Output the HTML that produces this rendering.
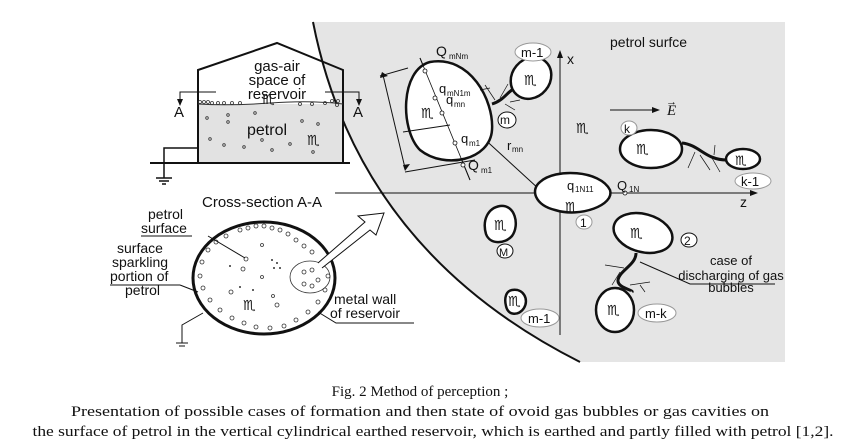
<!DOCTYPE html>
<html><head><meta charset="utf-8"><style>
html,body{margin:0;padding:0;background:#fff}
svg{display:block}
text{font-family:"Liberation Sans",Arial,sans-serif;fill:#111}
.s{font-family:"Liberation Serif",serif}
.g{font-family:"DejaVu Sans",sans-serif}
</style></head><body>
<svg width="841" height="448" viewBox="0 0 841 448" xmlns="http://www.w3.org/2000/svg">
<path d="M313,22 Q358,250 580,362 L785,362 L785,22 Z" fill="#e5e5e5"/>
<path d="M313,22 Q358,250 580,362" fill="none" stroke="#111" stroke-width="2"/>

<rect x="198" y="104" width="145" height="59" fill="#e2e2e2"/>
<path d="M198,163 L198,70 L277,43 L343,70 L343,163" fill="none" stroke="#111" stroke-width="2"/>
<line x1="150" y1="163" x2="350" y2="163" stroke="#111" stroke-width="2"/>
<path d="M198,104 Q230,106 270,103 T343,104" fill="none" stroke="#333" stroke-width="1"/>
<g fill="none" stroke="#333" stroke-width="0.8">
<circle cx="200" cy="102" r="1.5"/><circle cx="204" cy="102" r="1.5"/><circle cx="208" cy="102" r="1.5"/><circle cx="212" cy="103" r="1.5"/><circle cx="218" cy="103" r="1.5"/><circle cx="224" cy="103" r="1.5"/><circle cx="232" cy="103" r="1.5"/><circle cx="240" cy="103" r="1.5"/><circle cx="300" cy="104" r="1.5"/><circle cx="312" cy="104" r="1.5"/><circle cx="325" cy="103" r="1.5"/><circle cx="332" cy="101" r="1.5"/><circle cx="338" cy="101" r="1.5"/><circle cx="337" cy="105" r="1.5"/>
<circle cx="207" cy="118" r="1.3"/><circle cx="228" cy="115" r="1.3"/><circle cx="228" cy="122" r="1.3"/><circle cx="255" cy="113" r="1.3"/><circle cx="302" cy="121" r="1.3"/><circle cx="318" cy="124" r="1.3"/><circle cx="210" cy="139" r="1.3"/><circle cx="224" cy="145" r="1.3"/><circle cx="244" cy="147" r="1.3"/><circle cx="262" cy="140" r="1.3"/><circle cx="272" cy="150" r="1.3"/><circle cx="290" cy="144" r="1.3"/><circle cx="313" cy="152" r="1.3"/>
</g>
<text x="277" y="71" font-size="15" text-anchor="middle">gas-air</text>
<text x="277" y="85" font-size="15" text-anchor="middle">space of</text>
<text x="277" y="99" font-size="15" text-anchor="middle">reservoir</text>
<text x="247" y="135" font-size="16">petrol</text>
<text class="g" x="262" y="104" font-size="14">♏</text>
<text class="g" x="307" y="145" font-size="14">♏</text>
<polyline points="216,92 180,92 180,102" fill="none" stroke="#111"/>
<polygon points="177,99 183,99 180,106" fill="#111"/>
<polyline points="325,92 359,92 359,102" fill="none" stroke="#111"/>
<polygon points="356,99 362,99 359,106" fill="#111"/>
<text x="174" y="117" font-size="15">A</text>
<text x="353" y="117" font-size="15">A</text>
<polyline points="198,148 164,148 164,178" fill="none" stroke="#111" stroke-width="1.5"/>
<line x1="156" y1="178" x2="172" y2="178" stroke="#111" stroke-width="1.5"/>
<line x1="159" y1="181" x2="169" y2="181" stroke="#111" stroke-width="1.5"/>
<line x1="162" y1="184" x2="166" y2="184" stroke="#111" stroke-width="1.5"/>

<text x="202" y="207" font-size="15">Cross-section A-A</text>
<ellipse cx="264" cy="278" rx="71" ry="56" fill="#fff" stroke="#111" stroke-width="3"/>
<g fill="none" stroke="#333" stroke-width="0.8">
<circle cx="240" cy="230" r="2"/><circle cx="248" cy="228" r="2"/><circle cx="256" cy="226" r="2"/><circle cx="264" cy="226" r="2"/><circle cx="272" cy="228" r="2"/><circle cx="280" cy="230" r="2"/><circle cx="288" cy="234" r="2"/><circle cx="296" cy="240" r="2"/><circle cx="304" cy="246" r="2"/><circle cx="312" cy="252" r="2"/><circle cx="322" cy="264" r="2"/><circle cx="328" cy="276" r="2"/><circle cx="325" cy="290" r="2"/><circle cx="318" cy="302" r="2"/><circle cx="308" cy="312" r="2"/><circle cx="296" cy="320" r="2"/><circle cx="284" cy="326" r="2"/><circle cx="270" cy="328" r="2"/><circle cx="256" cy="327" r="2"/><circle cx="244" cy="323" r="2"/><circle cx="232" cy="318" r="2"/><circle cx="220" cy="310" r="2"/><circle cx="210" cy="300" r="2"/><circle cx="203" cy="288" r="2"/><circle cx="200" cy="276" r="2"/><circle cx="202" cy="262" r="2"/><circle cx="208" cy="250" r="2"/><circle cx="216" cy="242" r="2"/><circle cx="226" cy="236" r="2"/>
<circle cx="246" cy="259" r="2"/><circle cx="243" cy="269" r="2"/><circle cx="262" cy="277" r="1.5"/><circle cx="231" cy="292" r="2"/><circle cx="273" cy="296" r="1.5"/><circle cx="277" cy="305" r="2"/><circle cx="262" cy="245" r="1.5"/>
<ellipse cx="310" cy="277" rx="20" ry="16"/>
<circle cx="304" cy="272" r="2"/><circle cx="312" cy="270" r="2"/><circle cx="318" cy="280" r="2"/><circle cx="304" cy="284" r="2"/><circle cx="312" cy="286" r="2"/>
</g>
<g fill="#333"><circle cx="272" cy="260" r="1"/><circle cx="277" cy="263" r="1"/><circle cx="274" cy="268" r="1"/><circle cx="280" cy="268" r="1"/><circle cx="230" cy="266" r="1"/><circle cx="240" cy="287" r="1"/><circle cx="253" cy="290" r="1"/></g>
<text class="g" x="243" y="310" font-size="14">♏</text>
<path d="M318,263 L365,222 L358,216 L384,213 L376,235 L370,230 L322,268" fill="#fff" stroke="#111" stroke-width="1"/>
<text x="148" y="219" font-size="14">petrol</text>
<text x="141" y="233" font-size="14">surface</text>
<line x1="141" y1="236" x2="192" y2="236" stroke="#111"/>
<line x1="208" y1="236" x2="245" y2="258" stroke="#111"/>
<text x="117" y="253" font-size="14">surface</text>
<text x="112" y="267" font-size="14">sparkling</text>
<text x="110" y="281" font-size="14">portion of</text>
<text x="125" y="295" font-size="14">petrol</text>
<line x1="110" y1="285" x2="180" y2="285" stroke="#111"/>
<line x1="180" y1="285" x2="198" y2="292" stroke="#111"/>
<polyline points="203,313 182,325 182,343" fill="none" stroke="#111"/>
<line x1="176" y1="343" x2="188" y2="343" stroke="#111"/><line x1="179" y1="346" x2="185" y2="346" stroke="#111"/>
<text x="334" y="304" font-size="14">metal wall</text>
<text x="330" y="318" font-size="14">of reservoir</text>
<polyline points="318,312 336,323 414,323" fill="none" stroke="#111"/>

<line x1="560" y1="335" x2="560" y2="55" stroke="#111"/>
<polygon points="557,58 563,58 560,50" fill="#111"/>
<text x="567" y="64" font-size="14">x</text>
<line x1="335" y1="193" x2="752" y2="193" stroke="#111"/>
<polygon points="750,190 750,196 758,193" fill="#111"/>
<text x="740" y="207" font-size="14">z</text>
<text x="610" y="47" font-size="14">petrol surfce</text>
<line x1="610" y1="110" x2="655" y2="110" stroke="#111"/><polygon points="652,107 652,113 660,110" fill="#111"/>
<text x="667" y="115" font-size="15" class="s" font-style="italic">E</text>
<text x="666" y="105" font-size="11" class="s">→</text>

<line x1="420" y1="58" x2="470" y2="180" stroke="#111"/>
<line x1="456" y1="113" x2="540" y2="190" stroke="#111"/>
<path d="M430,62 C400,70 400,130 420,150 C445,170 490,160 492,130 C494,100 470,55 430,62 Z" fill="#fff" stroke="#111" stroke-width="2.5"/>
<line x1="420" y1="58" x2="470" y2="180" stroke="#111" stroke-width="0.8"/>
<path d="M408,68 L380,76 M475,160 L405,172 M403,132 L450,125" stroke="#111" fill="none"/>
<line x1="383" y1="75" x2="405" y2="168" stroke="#111"/>
<polygon points="380,78 388,76 382,72" fill="#111"/><polygon points="403,165 410,164 405,171" fill="#111"/>
<g fill="#fff" stroke="#111" stroke-width="0.8"><circle cx="425" cy="71" r="2"/><circle cx="435" cy="98" r="2"/><circle cx="442" cy="113" r="2"/><circle cx="455" cy="143" r="2"/><circle cx="463" cy="165" r="2"/><circle cx="540" cy="193" r="2"/><circle cx="548" cy="193" r="2"/><circle cx="577" cy="193" r="2"/><circle cx="590" cy="193" r="2"/><circle cx="625" cy="193" r="2"/></g>
<text x="436" y="56" font-size="14">Q</text><text x="449" y="59" font-size="8">mNm</text>
<text x="439" y="93" font-size="13">q</text><text x="447" y="96" font-size="8">mN1m</text>
<text x="446" y="104" font-size="13">q</text><text x="454" y="107" font-size="8">mn</text>
<text x="461" y="143" font-size="13">q</text><text x="469" y="146" font-size="8">m1</text>
<text x="468" y="170" font-size="14">Q</text><text x="481" y="173" font-size="8">m1</text>
<text x="507" y="150" font-size="13">r</text><text x="512" y="152" font-size="8">mn</text>
<text class="g" x="421" y="118" font-size="14">♏</text>
<path d="M492,104 C505,100 508,90 516,88" fill="none" stroke="#111" stroke-width="3"/>
<path d="M495,100 L485,85 M490,88 L480,90 M500,98 L508,84 M505,104 L515,110 M510,102 L520,100" stroke="#111" stroke-width="0.7"/>
<ellipse cx="531" cy="78" rx="19" ry="22" transform="rotate(40 531 78)" fill="#fff" stroke="#111" stroke-width="2.5"/>
<text class="g" x="524" y="85" font-size="14">♏</text>
<ellipse cx="533" cy="52" rx="18" ry="9" fill="#fff" stroke="#999"/><text x="521" y="57" font-size="13">m-1</text>
<ellipse cx="507" cy="120" rx="9" ry="8" fill="#fff" stroke="#111"/><text x="500" y="124" font-size="12">m</text>
<text class="g" x="576" y="133" font-size="14">♏</text>

<path d="M540,182 C555,168 600,170 610,190 C615,205 580,218 555,210 C535,205 530,190 540,182 Z" fill="#fff" stroke="#111" stroke-width="2.5"/>
<text x="567" y="190" font-size="13">q</text><text x="575" y="192" font-size="8">1N11</text>
<text x="617" y="190" font-size="13">Q</text><text x="629" y="192" font-size="8">1N</text>
<text class="g" x="565" y="212" font-size="14">♏</text>
<ellipse cx="584" cy="222" rx="8" ry="7" fill="#fff" stroke="#999"/><text x="580" y="227" font-size="12">1</text>

<ellipse cx="651" cy="149" rx="31" ry="19" fill="#fff" stroke="#111" stroke-width="2.5"/>
<text class="g" x="636" y="154" font-size="14">♏</text>
<path d="M682,143 C700,145 705,160 727,160" fill="none" stroke="#111" stroke-width="3"/>
<path d="M695,152 L688,168 M700,155 L710,170 M712,158 L720,172 M714,155 L715,145" stroke="#111" stroke-width="0.7"/>
<ellipse cx="743" cy="159" rx="17" ry="10" fill="#fff" stroke="#111" stroke-width="2.5"/>
<text class="g" x="735" y="165" font-size="13">♏</text>
<ellipse cx="629" cy="128" rx="8" ry="7" fill="#fff" stroke="#999"/><text x="624" y="133" font-size="12">k</text>
<ellipse cx="753" cy="181" rx="18" ry="8" fill="#fff" stroke="#999"/><text x="741" y="186" font-size="13">k-1</text>

<path d="M500,206 C515,204 520,225 512,236 C505,244 490,245 486,234 C482,220 488,208 500,206 Z" fill="#fff" stroke="#111" stroke-width="2.5"/>
<text class="g" x="494" y="230" font-size="14">♏</text>
<ellipse cx="505" cy="251" rx="8" ry="7" fill="#fff" stroke="#111"/><text x="499" y="256" font-size="11">M</text>

<path d="M512,290 C524,288 529,300 524,308 C519,316 508,316 506,306 C504,298 506,291 512,290 Z" fill="#fff" stroke="#111" stroke-width="2.5"/>
<text class="g" x="508" y="306" font-size="14">♏</text>
<ellipse cx="540" cy="318" rx="19" ry="9" fill="#fff" stroke="#999"/><text x="528" y="323" font-size="13">m-1</text>

<ellipse cx="643" cy="233" rx="30" ry="19" transform="rotate(15 643 233)" fill="#fff" stroke="#111" stroke-width="2.5"/>
<text class="g" x="630" y="238" font-size="14">♏</text>
<ellipse cx="689" cy="240" rx="8" ry="7" fill="#fff" stroke="#111"/><text x="684" y="245" font-size="12">2</text>
<path d="M636,253 C636,265 620,270 618,280 C617,288 634,290 632,292" fill="none" stroke="#111" stroke-width="3"/>
<path d="M624,268 L605,265 M620,272 L612,285 M630,285 L650,282 M640,285 L645,292" stroke="#111" stroke-width="0.7"/>
<ellipse cx="615" cy="310" rx="19" ry="22" fill="#fff" stroke="#111" stroke-width="2.5"/>
<text class="g" x="607" y="315" font-size="14">♏</text>
<ellipse cx="657" cy="313" rx="19" ry="9" fill="#fff" stroke="#999"/><text x="645" y="318" font-size="13">m-k</text>
<polyline points="640,262 690,284 775,284" fill="none" stroke="#111"/>
<text x="731" y="265" font-size="13" text-anchor="middle">case of</text>
<text x="731" y="280" font-size="13" text-anchor="middle">discharging of gas</text>
<text x="731" y="292" font-size="13" text-anchor="middle">bubbles</text>

<text class="s" x="420" y="396" font-size="15" text-anchor="middle">Fig. 2  Method of perception ;</text>
<text class="s" x="420" y="416" font-size="15" text-anchor="middle" textLength="698" lengthAdjust="spacingAndGlyphs">Presentation of possible cases of formation and then state of ovoid gas bubbles or gas cavities on</text>
<text class="s" x="433" y="436" font-size="15" text-anchor="middle" textLength="801" lengthAdjust="spacingAndGlyphs">the surface of petrol in the vertical cylindrical earthed reservoir, which is earthed and partly filled with petrol [1,2].</text>
</svg>
</body></html>
